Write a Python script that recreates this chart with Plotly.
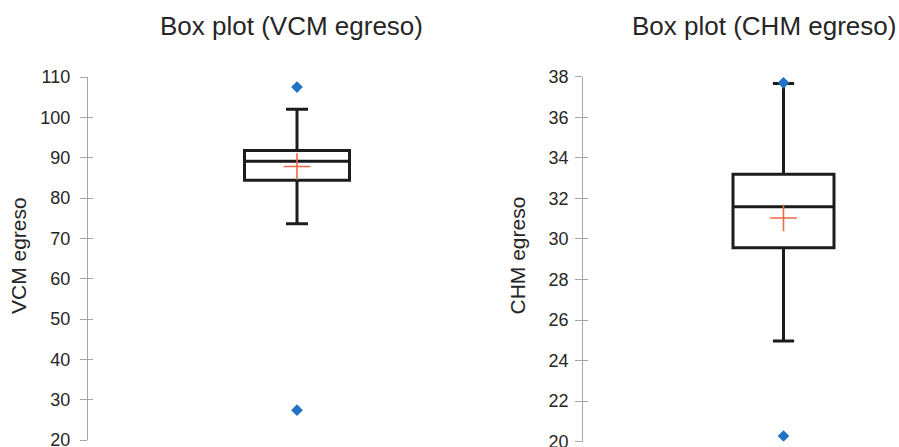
import plotly.graph_objects as go

W, H = 899, 447

titles = ["Box plot (VCM egreso)", "Box plot (CHM egreso)"]
ylabels = ["VCM egreso", "CHM egreso"]

# box statistics
q1 = [84.4, 29.57]
median = [89.1, 31.59]
q3 = [91.8, 33.19]
lower = [73.6, 24.97]
upper = [102.0, 37.67]
means = [87.8, 31.03]
outliers = [[107.5, 27.4], [37.7, 20.28]]

yranges = [[20, 110], [20, 38]]
ydtick = [10, 2]

BOXC = "#1c1c1c"
MEANC = "#ec6a43"
OUTC = "#1f72c4"
AXC = "#a6a6a6"
TXT = "#262626"
FONT = "Liberation Sans, Arial, sans-serif"

fig = go.Figure()

# panel geometry (pixels)
px_axis = [88, 583.3]
px_right = [506, 899]
px_center = [297, 783.5]
px_top = [77, 76.7]
px_bot = [440, 441.7]
box_px = [105, 101]

for i in range(2):
    n = i + 1
    xa = "x" if n == 1 else "x2"
    ya = "y" if n == 1 else "y2"
    fig.add_trace(go.Box(
        x=[0], q1=[q1[i]], median=[median[i]], q3=[q3[i]],
        lowerfence=[lower[i]], upperfence=[upper[i]],
        boxpoints=False, fillcolor="rgba(255,255,255,0)",
        line=dict(color=BOXC, width=3), whiskerwidth=0.21,
        width=1.0, xaxis=xa, yaxis=ya, showlegend=False, hoverinfo="skip"))
    fig.add_trace(go.Scatter(
        x=[0] * len(outliers[i]), y=outliers[i], mode="markers",
        marker=dict(symbol="diamond", size=9, color=OUTC),
        xaxis=xa, yaxis=ya, showlegend=False))
    fig.add_trace(go.Scatter(
        x=[0], y=[means[i]], mode="markers",
        marker=dict(symbol="cross-thin", size=19,
                    line=dict(color=MEANC, width=1.6)),
        xaxis=xa, yaxis=ya, showlegend=False))

layout = dict(width=W, height=H, margin=dict(l=0, r=0, t=0, b=0, pad=0),
              paper_bgcolor="white", plot_bgcolor="white",
              font=dict(family=FONT, color=TXT), showlegend=False)

annotations = []
for i in range(2):
    n = i + 1
    sfx = "" if n == 1 else str(n)
    left = px_axis[i]
    right = px_right[i]
    c = px_center[i]
    bw = box_px[i]
    # data units: box width = 1
    xr = [-(c - left) / bw, (right - c) / bw]
    layout["xaxis" + sfx] = dict(domain=[left / W, right / W], range=xr,
                                 visible=False, fixedrange=True,
                                 automargin=False)
    dom = [(H - px_bot[i]) / H, (H - px_top[i]) / H]
    layout["yaxis" + sfx] = dict(
        domain=dom, range=yranges[i], dtick=ydtick[i], tick0=0,
        anchor="x" + ("" if n == 1 else sfx), showgrid=False, zeroline=False,
        showline=True, linecolor=AXC, linewidth=1.2, automargin=False,
        ticks="outside", ticklen=7, tickwidth=1.2, tickcolor=AXC,
        ticklabelstandoff=6 if n == 1 else 3, ticklabeloverflow="allow",
        tickfont=dict(size=18, color=TXT, family=FONT))
    # inner half of the crossing ticks
    k = 3 + i
    layout["yaxis" + str(k)] = dict(
        domain=dom, range=yranges[i], dtick=ydtick[i], tick0=0,
        overlaying="y" + sfx, anchor="x" + sfx, showgrid=False, zeroline=False,
        showline=False, ticks="inside", ticklen=5, tickwidth=1.2,
        automargin=False, tickcolor=AXC, showticklabels=False)
    annotations.append(dict(
        text=titles[i], xref="paper", yref="paper",
        x=[291, 764][i] / W, y=1 - 26 / H, xanchor="center", yanchor="middle",
        showarrow=False, font=dict(size=26, color=TXT, family=FONT)))
    annotations.append(dict(
        text=ylabels[i], xref="paper", yref="paper", textangle=-90,
        x=[18, 516.5][i] / W, y=1 - 256 / H, xanchor="center", yanchor="middle",
        showarrow=False, font=dict(size=21, color=TXT, family=FONT)))

layout["annotations"] = annotations
fig.update_layout(**layout)

# dummy traces so the overlay axes are drawn
for i in range(2):
    fig.add_trace(go.Scatter(x=[None], y=[None], xaxis="x" if i == 0 else "x2",
                             yaxis="y" + str(3 + i), showlegend=False))

post = ("document.body.style.margin='0';"
        "var g=document.getElementById('{plot_id}');"
        "g.style.position='absolute';g.style.top='0px';g.style.left='0px';")

fig.write_html("out.html", post_script=post,
               config={"displayModeBar": False})
